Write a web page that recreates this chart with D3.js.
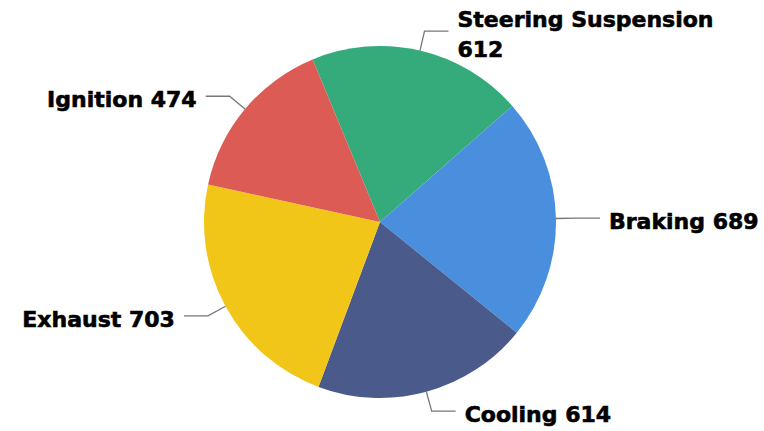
<!DOCTYPE html>
<html><head><meta charset="utf-8">
<script src="https://cdn.jsdelivr.net/npm/d3@7"></script>
<style>body{margin:0;background:#fff}svg{display:block}</style>
</head><body>
<svg id="chart" width="764" height="431"></svg>
<script>
const categories = ["Steering Suspension", "Braking", "Cooling", "Exhaust", "Ignition"];
const values = [612, 689, 614, 703, 474];
const colors = ["#35ab7c", "#4a8fde", "#4a5a8a", "#f2c618", "#dd5b55"];

const W = 764, H = 431;
const cx = 380, cy = 222, R = 176;
const startDeg = -22.5;
const svg = d3.select("#chart");
const g = svg.append("g").attr("transform", `translate(${cx},${cy})`);

const data = categories.map((c, i) => ({name: c, value: values[i], color: colors[i]}));
const pie = d3.pie().value(d => d.value).sort(null)
  .startAngle(startDeg * Math.PI / 180)
  .endAngle((startDeg + 360) * Math.PI / 180);
const arcs = pie(data);
const arc = d3.arc().innerRadius(0).outerRadius(R);

g.selectAll("path.slice").data(arcs).join("path")
  .attr("class", "slice")
  .attr("d", arc)
  .attr("fill", d => d.data.color);

const len1 = 20, len2 = 24, gap = 9;
arcs.forEach(a => {
  const m = (a.startAngle + a.endAngle) / 2;
  const sx = Math.sin(m), sy = -Math.cos(m);
  const p0 = [R * sx, R * sy];
  const p1 = [(R + len1) * sx, (R + len1) * sy];
  const dir = sx >= 0 ? 1 : -1;
  const p2 = [p1[0] + dir * len2, p1[1]];
  g.append("path")
    .attr("d", d3.line()([p0, p1, p2]))
    .attr("fill", "none").attr("stroke", "#777").attr("stroke-width", 1.3);
  const xt = p2[0] + dir * gap;
  const t = g.append("text")
    .attr("x", xt)
    .attr("text-anchor", dir > 0 ? "start" : "end")
    .attr("font-family", "DejaVu Sans, sans-serif")
    .attr("font-weight", "bold")
    .attr("font-size", 22)
    .attr("fill", "#000")
    .attr("stroke", "#000").attr("stroke-width", 0.6);
  const full = a.data.name + " " + a.data.value;
  t.text(full);
  const w = t.node().getComputedTextLength();
  const absX = cx + xt;
  const overflow = dir > 0 ? absX + w > W - 4 : absX - w < 4;
  if (overflow) {
    t.text(null);
    t.append("tspan").attr("x", xt).attr("y", p2[1] - 4).text(a.data.name);
    t.append("tspan").attr("x", xt).attr("y", p2[1] + 26).text(a.data.value);
  } else {
    t.attr("y", p2[1] + 11);
  }
});
</script>
</body></html>
